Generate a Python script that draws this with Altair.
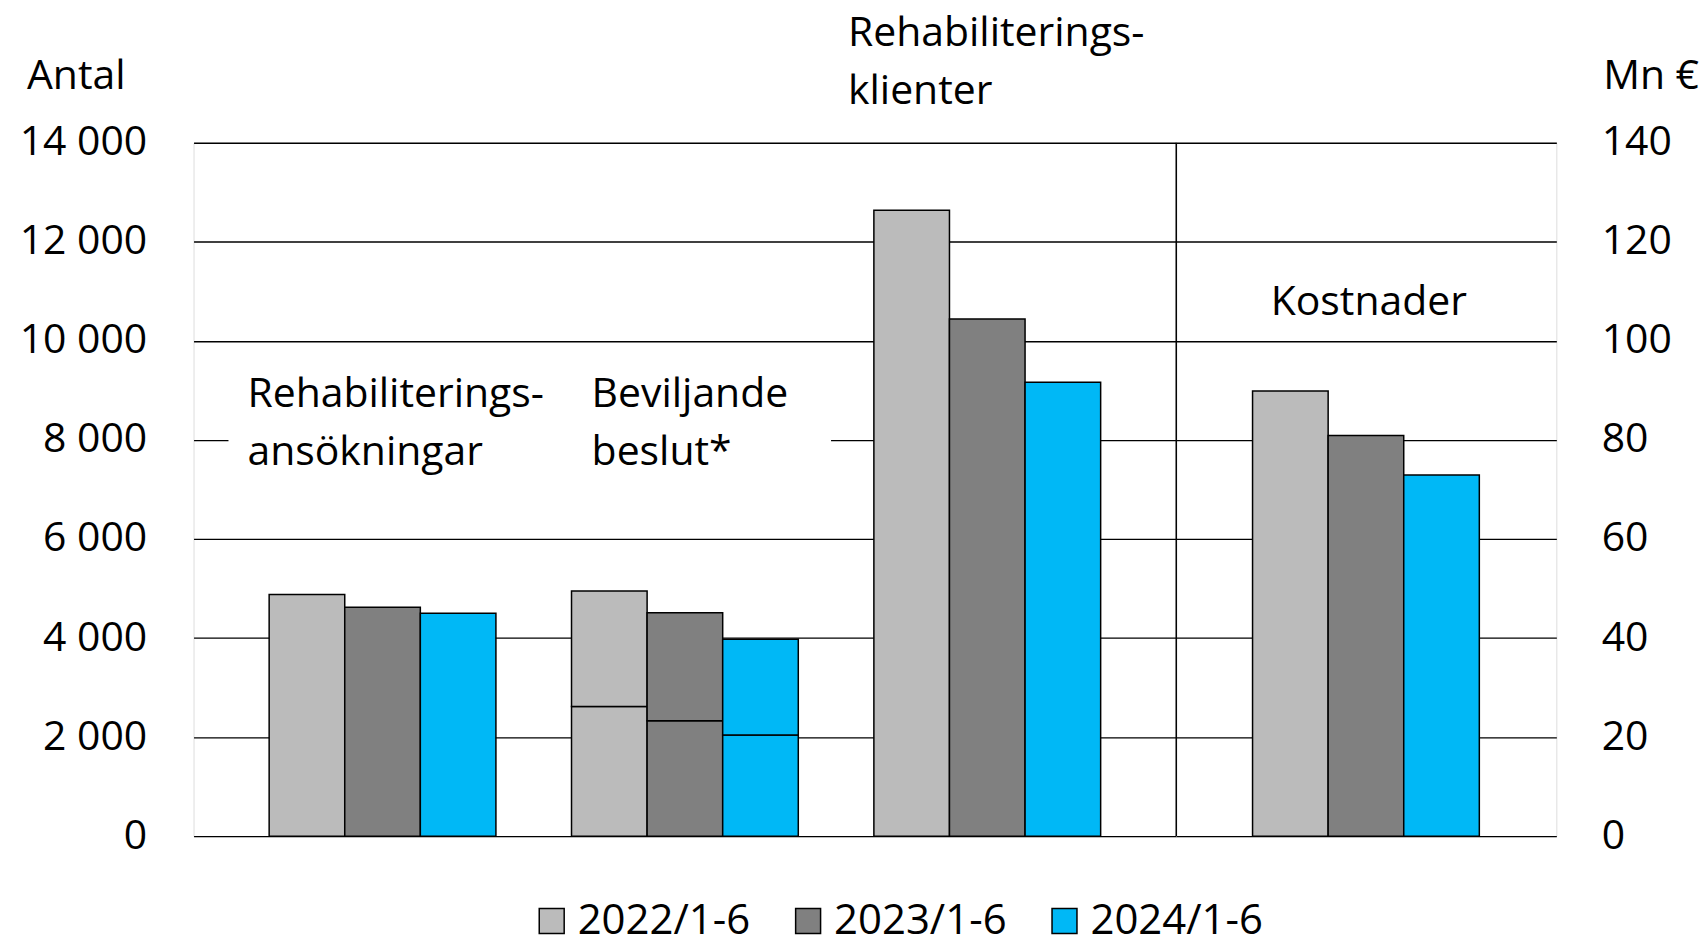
import altair as alt
import pandas as pd

# ---- data ----
years = ["2022/1-6", "2023/1-6", "2024/1-6"]
groups = ["Rehabiliteringsansökningar", "Beviljande beslut", "Rehabiliteringsklienter"]
ansokningar = [4880, 4620, 4500]
beslut_totalt = [4950, 4510, 3975]
beslut_del = [2620, 2330, 2040]
klienter = [12640, 10440, 9165]
kostnader = [89.9, 80.9, 72.9]          # Mn €
colors = ["#BBBBBB", "#808080", "#00B8F6"]
antal_ticks = [0, 2000, 4000, 6000, 8000, 10000, 12000, 14000]
mn_ticks = [0, 20, 40, 60, 80, 100, 120, 140]

FONT = "Open Sans"
FS = 41
W_L, W_R, H = 985, 381, 695

rows = []
for i, yr in enumerate(years):
    rows.append({"grupp": groups[0], "år": yr, "del": 1, "value": ansokningar[i]})
    rows.append({"grupp": groups[1], "år": yr, "del": 1, "value": beslut_del[i]})
    rows.append({"grupp": groups[1], "år": yr, "del": 2, "value": beslut_totalt[i] - beslut_del[i]})
    rows.append({"grupp": groups[2], "år": yr, "del": 1, "value": klienter[i]})
df_left = pd.DataFrame(rows)
df_right = pd.DataFrame({"grupp": ["Kostnader"] * 3, "år": years, "value": kostnader})

one = pd.DataFrame({"n": [0]})


def note(lines, x, y, align="left"):
    return alt.Chart(one).mark_text(
        text=lines, align=align, baseline="middle", font=FONT, fontSize=FS,
        lineHeight=58, color="black"
    ).encode(x=alt.value(x), y=alt.value(y))


color_scale = alt.Scale(domain=years, range=colors)

bars_left = alt.Chart(df_left).transform_stack(
    stack="value", groupby=["grupp", "år"],
    sort=[alt.SortField("del", order="ascending")], as_=["v0", "v1"]
).mark_bar(stroke="black", strokeWidth=1.5).encode(
    x=alt.X("grupp:N", sort=groups, axis=None,
            scale=alt.Scale(paddingInner=0.25, paddingOuter=0.25)),
    xOffset=alt.XOffset("år:N", sort=years),
    y=alt.Y("v1:Q", scale=alt.Scale(domain=[0, 14000], nice=False),
            axis=alt.Axis(values=antal_ticks, title=None, domain=False, ticks=False,
                          grid=True, gridColor="black", gridWidth=1.4,
                          labelExpr="replace(format(datum.value, ','), ',', ' ')",
                          labelFont=FONT, labelFontSize=FS, labelColor="black",
                          labelPadding=47)),
    y2="v0:Q",
    color=alt.Color("år:N", scale=color_scale, sort=years,
                    legend=alt.Legend(title=None, orient="none", legendX=338, legendY=759,
                                      direction="horizontal", symbolType="square",
                                      symbolSize=625, symbolStrokeColor="black",
                                      symbolStrokeWidth=1.5, symbolOpacity=1,
                                      labelFont=FONT, labelFontSize=42, labelColor="black",
                                      labelOffset=5, columnPadding=36, labelLimit=400)),
)

mask = alt.Chart(one).mark_rect(color="white").encode(
    x=alt.value(35), x2=alt.value(639), y=alt.value(225), y2=alt.value(340)
)

left = alt.layer(
    mask,
    bars_left,
    note(["Rehabiliterings-", "ansökningar"], 54, 253),
    note(["Beviljande", "beslut*"], 399, 253),
    note(["Rehabiliterings-", "klienter"], 656, -109),
    note("Antal", -167, -66),
).properties(width=W_L, height=H)

bars_right = alt.Chart(df_right).mark_bar(stroke="black", strokeWidth=1.5).encode(
    x=alt.X("grupp:N", axis=None, scale=alt.Scale(paddingInner=0, paddingOuter=0.3355)),
    xOffset=alt.XOffset("år:N", sort=years),
    y=alt.Y("value:Q", scale=alt.Scale(domain=[0, 140], nice=False),
            axis=alt.Axis(orient="right", values=mn_ticks, title=None, domain=False,
                          ticks=False, grid=True, gridColor="black", gridWidth=1.4,
                          labelFont=FONT, labelFontSize=FS, labelColor="black",
                          labelPadding=45)),
    color=alt.Color("år:N", scale=color_scale, sort=years, legend=None),
)

sep = alt.Chart(one).mark_rule(color="black", strokeWidth=1.5).encode(
    x=alt.value(0), y=alt.value(0), y2=alt.value(H)
)

right = alt.layer(
    bars_right,
    sep,
    note("Kostnader", 193, 161, align="center"),
    note("Mn €", 524, -66, align="right"),
).properties(width=W_R, height=H)

chart = alt.hconcat(left, right, spacing=0, bounds="flush").resolve_scale(
    y="independent", color="independent"
).properties(
    padding={"left": 10, "top": 3, "right": 0, "bottom": 0}
).configure_view(stroke=None).configure(background="white")

chart.save("out.html", embed_options={"renderer": "svg", "actions": False})
